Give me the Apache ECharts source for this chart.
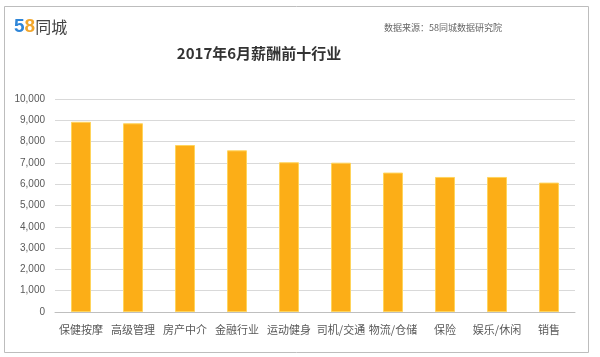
<!DOCTYPE html>
<html><head><meta charset="utf-8">
<script src="https://cdn.jsdelivr.net/npm/echarts@6/dist/echarts.min.js"></script>
<style>html,body{margin:0;padding:0;background:#fff}#c{width:600px;height:357px}</style>
</head><body><div id="c"></div>
<script>
const categories = ['保健按摩','高级管理','房产中介','金融行业','运动健身','司机/交通','物流/仓储','保险','娱乐/休闲','销售'];
const salaries = [8930, 8860, 7840, 7590, 7030, 7010, 6545, 6340, 6340, 6075];
const chartTitle = '2017年6月薪酬前十行业';
const sourceText = '数据来源：58同城数据研究院';

const chart = echarts.init(document.getElementById('c'));
chart.setOption({
  animation: false,
  backgroundColor: '#fff',
  title: {
    text: chartTitle, left: 254, top: 41, textAlign: 'center',
    textStyle: {fontSize: 15, fontWeight: 'bold', color: '#333', fontFamily: 'Noto Sans CJK SC'}
  },
  graphic: [
    {type: 'rect', shape: {x: 4.5, y: 6.5, width: 584, height: 346}, style: {fill: 'none', stroke: '#bdbdbd', lineWidth: 1}, z: -1},
    {type: 'text', left: 14, top: 17, style: {
      text: '{a|5}{b|8}{c|同城}',
      rich: {
        a: {fontSize: 19, fontWeight: 'bold', fill: '#2f86d8', fontFamily: 'Arial'},
        b: {fontSize: 19, fontWeight: 'bold', fill: '#f2a62b', fontFamily: 'Arial'},
        c: {fontSize: 16, fill: '#444', fontFamily: 'Noto Sans CJK SC'}
      }
    }},
    {type: 'text', right: 98, top: 23, style: {text: sourceText, fontSize: 9, fill: '#666', fontFamily: 'Noto Sans CJK SC'}}
  ],
  grid: {left: 55, right: 25, top: 99, bottom: 45, containLabel: false},
  xAxis: {
    type: 'category', data: categories,
    axisLine: {lineStyle: {color: '#bfbfbf'}},
    axisTick: {show: false},
    axisLabel: {color: '#595959', fontSize: 11, margin: 12, interval: 0, fontFamily: 'Noto Sans CJK SC'}
  },
  yAxis: {
    type: 'value', min: 0, max: 10000, interval: 1000,
    axisLine: {show: false}, axisTick: {show: false},
    axisLabel: {color: '#595959', fontSize: 10, margin: 10, fontFamily: 'Arial',
      formatter: v => v.toLocaleString('en-US')},
    splitLine: {lineStyle: {color: '#d9d9d9'}}
  },
  series: [{
    type: 'bar', data: salaries, barWidth: 20,
    itemStyle: {color: '#fcae17', borderColor: '#ffd45c', borderWidth: 1}
  }]
});
</script></body></html>
